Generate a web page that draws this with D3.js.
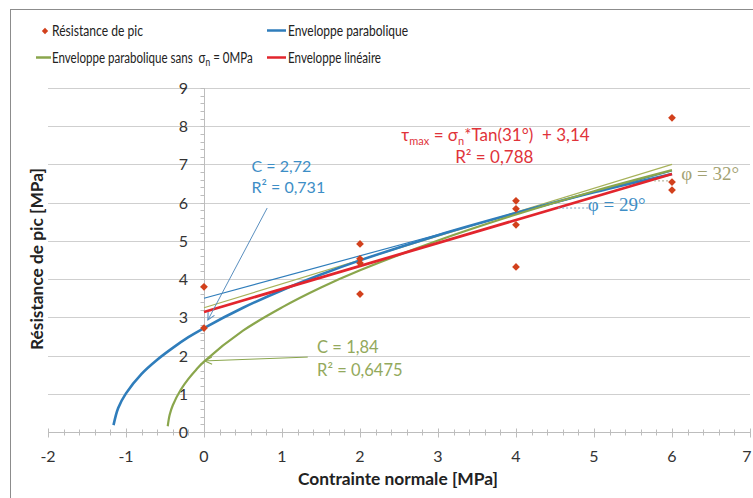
<!DOCTYPE html>
<html>
<head>
<meta charset="utf-8">
<script src="https://cdn.jsdelivr.net/npm/d3@7"></script>
<style>
  html, body { margin: 0; padding: 0; background: #fff; }
  svg { display: block; font-family: Lato, "Open Sans", sans-serif; }
</style>
</head>
<body>
<svg id="chart" width="753" height="498"></svg>
<script>
// ---------- data ----------
const xTicks = [-2, -1, 0, 1, 2, 3, 4, 5, 6, 7];
const yTicks = [0, 1, 2, 3, 4, 5, 6, 7, 8, 9];

// Peak resistance measurements
const pointX = [0, 0, 2, 2, 2, 2, 4, 4, 4, 4, 6, 6, 6];
const pointY = [3.8, 2.72, 4.92, 4.53, 4.42, 3.61, 6.05, 5.84, 5.42, 4.32, 8.22, 6.54, 6.33];

// Parabolic envelope
const paraX = [-1.16, -1.1, -1.0, -0.8, -0.6, -0.4, -0.2, 0, 0.5, 1, 1.5, 2, 3, 4, 5, 6];
const paraY = [0.18, 0.63, 1.01, 1.52, 1.89, 2.2, 2.48, 2.72, 3.25, 3.71, 4.12, 4.49, 5.15, 5.73, 6.27, 6.75];

// Parabolic envelope without sigma_n = 0
const para2X = [-0.465, -0.44, -0.4, -0.3, -0.2, -0.1, 0, 0.5, 1, 1.5, 2, 3, 4, 5, 6];
const para2Y = [0.15, 0.45, 0.7, 1.1, 1.39, 1.63, 1.84, 2.65, 3.26, 3.78, 4.23, 5.01, 5.69, 6.3, 6.85];

// Linear envelope
const linX = [0, 6];
const linY = [3.14, 6.75];

// Tangent lines (phi = 29°, phi = 32°)
const tan29X = [0, 6];
const tan29Y = [3.5, 6.83];
const tan32X = [0, 6];
const tan32Y = [3.25, 7.0];

// Legend
const legendLabels = ["Résistance de pic", "Enveloppe parabolique", "Enveloppe parabolique sans", "Enveloppe linéaire"];

// ---------- colors ----------
const cBlue = "#2f7dbb", cGreen = "#8aa64c", cRed = "#e2252d", cPoint = "#d2401c";
const cBlueText = "#3d8ec6", cGreenText = "#93a95c", cRedText = "#e0333a", cPhi32 = "#a3a273";

const svg = d3.select("#chart");
const x = d3.scaleLinear().domain([-2, 7]).range([48, 750]);
const y = d3.scaleLinear().domain([0, 9]).range([432, 88]);

// outer frame
svg.append("rect").attr("x", 10.5).attr("y", 9.5).attr("width", 800).attr("height", 600)
  .attr("fill", "none").attr("stroke", "#8c8c8c").attr("stroke-width", 1);

// horizontal gridlines
svg.append("g").selectAll("line").data(yTicks.filter(d => d > 0)).join("line")
  .attr("x1", x(-2)).attr("x2", x(7))
  .attr("y1", d => Math.round(y(d)) + 0.5).attr("y2", d => Math.round(y(d)) + 0.5)
  .attr("stroke", "#cfcfcf").attr("stroke-width", 1);

// x axis (at y = 0)
const xMinor = d3.range(-2, 7.0001, 0.2);
const gx = svg.append("g").attr("transform", `translate(0,${Math.round(y(0)) + 0.5})`);
gx.append("line").attr("x1", x(-2)).attr("x2", x(7)).attr("stroke", "#bdbdbd");
gx.selectAll("line.minor").data(xMinor).join("line").attr("class", "minor")
  .attr("x1", d => Math.round(x(d)) + 0.5).attr("x2", d => Math.round(x(d)) + 0.5)
  .attr("y1", -3).attr("y2", 3).attr("stroke", "#bdbdbd");
gx.selectAll("line.major").data(xTicks).join("line").attr("class", "major")
  .attr("x1", d => Math.round(x(d)) + 0.5).attr("x2", d => Math.round(x(d)) + 0.5)
  .attr("y1", -4).attr("y2", 5).attr("stroke", "#bdbdbd");
svg.append("g").selectAll("text").data(xTicks).join("text")
  .attr("x", d => Math.min(x(d), 747)).attr("y", 462).attr("text-anchor", "middle")
  .attr("font-size", 16).attr("fill", "#333").text(d => d);

// y axis (at x = 0)
const yMinor = d3.range(0, 9.0001, 0.2);
const gy = svg.append("g").attr("transform", `translate(${Math.round(x(0)) + 0.5},0)`);
gy.append("line").attr("y1", y(0)).attr("y2", y(9)).attr("stroke", "#bdbdbd");
gy.selectAll("line.minor").data(yMinor).join("line").attr("class", "minor")
  .attr("y1", d => Math.round(y(d)) + 0.5).attr("y2", d => Math.round(y(d)) + 0.5)
  .attr("x1", -4).attr("x2", 0).attr("stroke", "#bdbdbd");
svg.append("g").selectAll("text").data(yTicks).join("text")
  .attr("x", x(0) - 16).attr("y", d => y(d) + 6).attr("text-anchor", "end")
  .attr("font-size", 16).attr("fill", "#333").text(d => d);

// axis titles
svg.append("text").attr("x", 398).attr("y", 485).attr("text-anchor", "middle")
  .attr("font-size", 17).attr("font-weight", "bold").attr("fill", "#222")
  .attr("textLength", 200).attr("lengthAdjust", "spacingAndGlyphs").text("Contrainte normale [MPa]");
svg.append("text").attr("transform", "translate(43,259) rotate(-90)").attr("text-anchor", "middle")
  .attr("font-size", 17).attr("font-weight", "bold").attr("fill", "#222")
  .attr("textLength", 182).attr("lengthAdjust", "spacingAndGlyphs").text("Résistance de pic [MPa]");

// ---------- series ----------
const lineGen = d3.line().x(d => x(d[0])).y(d => y(d[1]));
const curveGen = d3.line().x(d => x(d[0])).y(d => y(d[1])).curve(d3.curveCatmullRom.alpha(0.5));
const zip = (a, b) => a.map((v, i) => [v, b[i]]);

// tangent lines (thin)
svg.append("path").datum(zip(tan29X, tan29Y)).attr("d", lineGen)
  .attr("fill", "none").attr("stroke", cBlue).attr("stroke-width", 1.2);
svg.append("path").datum(zip(tan32X, tan32Y)).attr("d", lineGen)
  .attr("fill", "none").attr("stroke", "#a7b25a").attr("stroke-width", 1.2);

// parabolic curves
svg.append("path").datum(zip(paraX, paraY)).attr("d", curveGen)
  .attr("fill", "none").attr("stroke", cBlue).attr("stroke-width", 2.6);
svg.append("path").datum(zip(para2X, para2Y)).attr("d", curveGen)
  .attr("fill", "none").attr("stroke", cGreen).attr("stroke-width", 2.2);

// linear envelope
svg.append("path").datum(zip(linX, linY)).attr("d", lineGen)
  .attr("fill", "none").attr("stroke", cRed).attr("stroke-width", 2.8);

// points
const diamond = d3.symbol(d3.symbolSquare, 30);
svg.append("g").selectAll("path").data(zip(pointX, pointY)).join("path")
  .attr("d", diamond)
  .attr("transform", d => `translate(${x(d[0])},${y(d[1])}) rotate(45)`)
  .attr("fill", cPoint);

// ---------- annotations ----------
const defs = svg.append("defs");
function arrowMarker(id, color) {
  defs.append("marker").attr("id", id).attr("viewBox", "0 0 10 10").attr("refX", 9).attr("refY", 5)
    .attr("markerWidth", 9).attr("markerHeight", 9).attr("orient", "auto")
    .append("path").attr("d", "M1,1 L9,5 L1,9").attr("fill", "none").attr("stroke", color).attr("stroke-width", 1.2);
}
arrowMarker("arrBlue", "#5a8fbf");
arrowMarker("arrGreen", cGreen);

svg.append("line").attr("x1", x(0.81)).attr("y1", y(5.86)).attr("x2", x(0.05)).attr("y2", y(2.93))
  .attr("stroke", "#5a8fbf").attr("stroke-width", 1).attr("marker-end", "url(#arrBlue)");
svg.append("line").attr("x1", x(1.33)).attr("y1", y(1.96)).attr("x2", x(0.01)).attr("y2", y(1.86))
  .attr("stroke", cGreen).attr("stroke-width", 1).attr("marker-end", "url(#arrGreen)");

// blue annotation
const tBlue = svg.append("g").attr("fill", cBlueText).attr("font-size", 16);
tBlue.append("text").attr("x", x(0.61)).attr("y", y(6.81)).text("C = 2,72");
tBlue.append("text").attr("x", x(0.61)).attr("y", y(6.26)).text("R² = 0,731");

// green annotation
const tGreen = svg.append("g").attr("fill", cGreenText).attr("font-size", 16.5);
tGreen.append("text").attr("x", x(1.45)).attr("y", y(2.07)).text("C = 1,84");
tGreen.append("text").attr("x", x(1.45)).attr("y", y(1.47)).text("R² = 0,6475");

// red annotation
const tRed = svg.append("g").attr("fill", cRedText).attr("font-size", 17);
const eq = tRed.append("text").attr("x", x(2.53)).attr("y", y(7.62)).attr("xml:space", "preserve");
eq.append("tspan").text("τ");
eq.append("tspan").attr("font-size", 11).attr("dy", 4).text("max");
eq.append("tspan").attr("dy", -4).text(" = σ");
eq.append("tspan").attr("font-size", 11).attr("dy", 4).text("n");
eq.append("tspan").attr("dy", -4).text("*Tan(31°)  + 3,14");
tRed.append("text").attr("x", x(3.22)).attr("y", y(7.04)).text("R² = 0,788");

// phi annotations
svg.append("line").attr("x1", x(4.54)).attr("x2", x(4.94)).attr("y1", y(5.86)).attr("y2", y(5.86))
  .attr("stroke", "#7fa3c3").attr("stroke-width", 1).attr("stroke-dasharray", "2,2");
svg.append("text").attr("x", x(4.92)).attr("y", y(5.79)).attr("fill", cBlueText)
  .attr("font-family", "'Liberation Serif', 'DejaVu Serif', serif").attr("font-size", 19).text("φ = 29°");
svg.append("line").attr("x1", x(5.77)).attr("x2", x(5.95)).attr("y1", y(6.57)).attr("y2", y(6.57))
  .attr("stroke", "#a9a98a").attr("stroke-width", 1).attr("stroke-dasharray", "2,2");
svg.append("text").attr("x", x(6.12)).attr("y", y(6.6)).attr("fill", cPhi32)
  .attr("font-family", "'Liberation Serif', 'DejaVu Serif', serif").attr("font-size", 19).text("φ = 32°");

// ---------- legend ----------
const lg = svg.append("g").attr("font-size", 15).attr("fill", "#222");
lg.append("path").attr("d", d3.symbol(d3.symbolSquare, 20))
  .attr("transform", "translate(45,31) rotate(45)").attr("fill", cPoint);
lg.append("text").attr("x", 52).attr("y", 36)
  .attr("textLength", 91).attr("lengthAdjust", "spacingAndGlyphs").text(legendLabels[0]);

lg.append("line").attr("x1", 267).attr("x2", 286).attr("y1", 30.5).attr("y2", 30.5).attr("stroke", cBlue).attr("stroke-width", 2.5);
lg.append("text").attr("x", 288).attr("y", 36)
  .attr("textLength", 120).attr("lengthAdjust", "spacingAndGlyphs").text(legendLabels[1]);

lg.append("line").attr("x1", 36).attr("x2", 51).attr("y1", 57.5).attr("y2", 57.5).attr("stroke", cGreen).attr("stroke-width", 2.5);
// compound label, compressed horizontally to the reference width
const l3g = lg.append("g");
const l3 = l3g.append("text").attr("x", 0).attr("y", 0).attr("xml:space", "preserve");
l3.append("tspan").text(legendLabels[2] + "  σ");
l3.append("tspan").attr("font-size", 11).attr("dy", 3).text("n");
l3.append("tspan").attr("dy", -3).text(" = 0MPa");
const l3w = l3.node().getComputedTextLength();
l3g.attr("transform", `translate(52,63) scale(${201 / l3w},1)`);

lg.append("line").attr("x1", 267).attr("x2", 286).attr("y1", 57.5).attr("y2", 57.5).attr("stroke", cRed).attr("stroke-width", 2.5);
lg.append("text").attr("x", 288).attr("y", 63)
  .attr("textLength", 93).attr("lengthAdjust", "spacingAndGlyphs").text(legendLabels[3]);
</script>
</body>
</html>
